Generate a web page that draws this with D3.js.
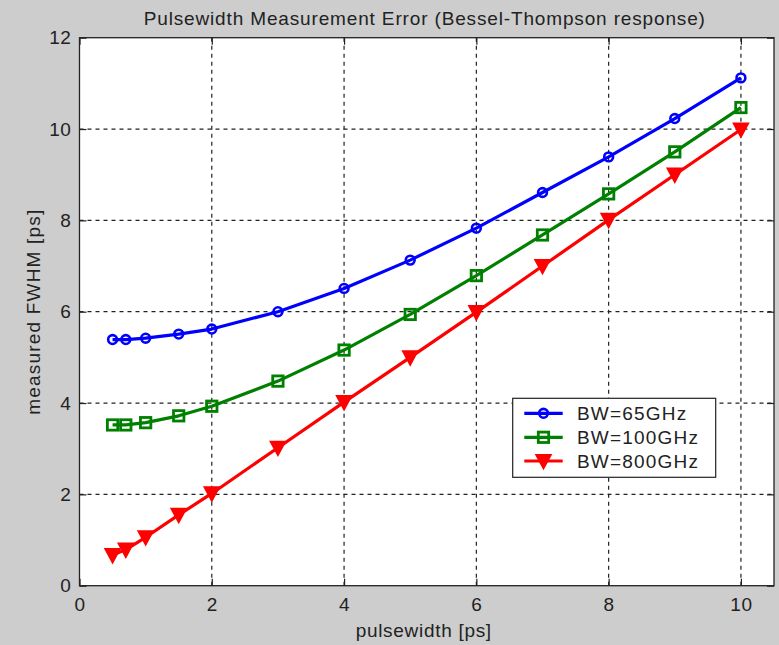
<!DOCTYPE html>
<html>
<head>
<meta charset="utf-8">
<script src="https://cdn.jsdelivr.net/npm/d3@7"></script>
<style>
  html, body { margin: 0; padding: 0; background: #cdcdcd; }
  svg { display: block; }
  text { font-family: "Liberation Sans", Arial, sans-serif; fill: #222; }
</style>
</head>
<body>
<svg id="chart" width="779" height="645"></svg>
<script>
// Pulse widths (ps) and measured FWHM (ps) for three receiver bandwidths
const pulsewidth = [0.5, 0.7, 1, 1.5, 2, 3, 4, 5, 6, 7, 8, 9, 10];
const fwhm65  = [5.39, 5.39, 5.42, 5.51, 5.62, 6.00, 6.51, 7.13, 7.83, 8.61, 9.39, 10.23, 11.12];
const fwhm100 = [3.52, 3.52, 3.57, 3.72, 3.93, 4.48, 5.16, 5.94, 6.79, 7.68, 8.58, 9.50, 10.47];
const fwhm800 = [0.67, 0.79, 1.06, 1.55, 2.02, 3.02, 4.02, 5.00, 5.99, 7.00, 8.01, 9.00, 9.99];
const seriesNames = ["BW=65GHz", "BW=100GHz", "BW=800GHz"];
const xTicks = [0, 2, 4, 6, 8, 10];
const yTicks = [0, 2, 4, 6, 8, 10, 12];

const titleText = "Pulsewidth Measurement Error (Bessel-Thompson response)";
const xLabel = "pulsewidth [ps]";
const yLabel = "measured FWHM [ps]";

const svg = d3.select("#chart");
const plotLeft = 79.5, plotRight = 774, plotTop = 37.7, plotBottom = 585.7;

const x = d3.scaleLinear().domain([0, 10.5]).range([plotLeft, plotRight]);
const y = d3.scaleLinear().domain([0, 12]).range([plotBottom, plotTop]);

// white axes area
svg.append("rect")
  .attr("x", plotLeft).attr("y", plotTop)
  .attr("width", plotRight - plotLeft).attr("height", plotBottom - plotTop)
  .attr("fill", "#ffffff");

// dashed grid
const grid = svg.append("g").attr("stroke", "#222").attr("stroke-width", 1.2)
  .attr("stroke-dasharray", "4,4");
grid.selectAll("line.v").data(xTicks.filter(d => d > 0)).enter().append("line")
  .attr("x1", d => x(d)).attr("x2", d => x(d))
  .attr("y1", plotTop).attr("y2", plotBottom);
grid.selectAll("line.h").data(yTicks.filter(d => d > 0 && d < 12)).enter().append("line")
  .attr("x1", plotLeft).attr("x2", plotRight)
  .attr("y1", d => y(d)).attr("y2", d => y(d));

// axes with inward ticks on all four sides
const tickLen = 7;
const axisFont = "19px";
const gx = svg.append("g").attr("transform", `translate(0,${plotBottom})`)
  .call(d3.axisBottom(x).tickValues(xTicks).tickSizeInner(-tickLen).tickSizeOuter(0).tickPadding(tickLen + 5));
const gy = svg.append("g").attr("transform", `translate(${plotLeft},0)`)
  .call(d3.axisLeft(y).tickValues(yTicks).tickSizeInner(-tickLen).tickSizeOuter(0).tickPadding(8));
const gxt = svg.append("g").attr("transform", `translate(0,${plotTop})`)
  .call(d3.axisTop(x).tickValues(xTicks).tickSizeInner(-tickLen).tickSizeOuter(0).tickFormat(""));
const gyr = svg.append("g").attr("transform", `translate(${plotRight},0)`)
  .call(d3.axisRight(y).tickValues(yTicks).tickSizeInner(-tickLen).tickSizeOuter(0).tickFormat(""));
[gx, gy, gxt, gyr].forEach(g => {
  g.select(".domain").remove();
  g.selectAll(".tick line").attr("stroke", "#222").attr("stroke-width", 1.2);
  g.selectAll(".tick text").style("font-size", axisFont)
    .style("font-family", '"Liberation Sans", Arial, sans-serif')
    .style("letter-spacing", "0.6px").attr("fill", "#222");
});

// frame
svg.append("rect")
  .attr("x", plotLeft).attr("y", plotTop)
  .attr("width", plotRight - plotLeft).attr("height", plotBottom - plotTop)
  .attr("fill", "none").attr("stroke", "#222").attr("stroke-width", 1.3);

// series
const series = [
  { name: seriesNames[0], values: fwhm65,  color: "#0000ff", marker: "circle" },
  { name: seriesNames[1], values: fwhm100, color: "#008000", marker: "square" },
  { name: seriesNames[2], values: fwhm800, color: "#ff0000", marker: "triangle" }
];

const line = d3.line().x(d => x(d[0])).y(d => y(d[1]));

function drawMarker(g, type, color, cx, cy) {
  if (type === "circle") {
    g.append("circle").attr("cx", cx).attr("cy", cy).attr("r", 4.4)
      .attr("fill", "none").attr("stroke", color).attr("stroke-width", 2.6);
  } else if (type === "square") {
    g.append("rect").attr("x", cx - 5.2).attr("y", cy - 5.2)
      .attr("width", 10.4).attr("height", 10.4)
      .attr("fill", "none").attr("stroke", color).attr("stroke-width", 2.8);
  } else {
    const w = 7, h = 6;
    g.append("path")
      .attr("d", `M${cx - w},${cy - h}L${cx + w},${cy - h}L${cx},${cy + h + 1}Z`)
      .attr("fill", color).attr("stroke", color).attr("stroke-width", 2.2)
      .attr("stroke-linejoin", "miter");
  }
}

series.forEach(s => {
  const pts = pulsewidth.map((p, i) => [p, s.values[i]]);
  const g = svg.append("g");
  g.append("path").datum(pts).attr("d", line)
    .attr("fill", "none").attr("stroke", s.color).attr("stroke-width", 3.2)
    .attr("stroke-linejoin", "round");
  pts.forEach(p => drawMarker(g, s.marker, s.color, x(p[0]), y(p[1])));
});

// legend
const lg = svg.append("g");
lg.append("rect").attr("x", 512.7).attr("y", 398.3).attr("width", 203).attr("height", 79)
  .attr("fill", "#ffffff").attr("stroke", "#222").attr("stroke-width", 1.2);
const legendRows = [413.3, 437.3, 461];
series.forEach((s, i) => {
  const ly = legendRows[i];
  lg.append("line").attr("x1", 524.3).attr("x2", 562.7).attr("y1", ly).attr("y2", ly)
    .attr("stroke", s.color).attr("stroke-width", 3.2);
  drawMarker(lg, s.marker, s.color, 543.5, ly);
  lg.append("text").attr("x", 577).attr("y", ly + 7)
    .style("font-size", "19px").style("letter-spacing", "1.2px").text(s.name);
});

// title and axis labels
svg.append("text").attr("x", (plotLeft + plotRight) / 2 - 2).attr("y", 25)
  .attr("text-anchor", "middle").style("font-size", "19px")
  .style("letter-spacing", "0.85px").text(titleText);
svg.append("text").attr("x", (plotLeft + plotRight) / 2 - 3).attr("y", 637)
  .attr("text-anchor", "middle").style("font-size", "19px")
  .style("letter-spacing", "0.7px").text(xLabel);
svg.append("text").attr("transform", `translate(40,${(plotTop + plotBottom) / 2}) rotate(-90)`)
  .attr("text-anchor", "middle").style("font-size", "19px")
  .style("letter-spacing", "1.2px").text(yLabel);
</script>
</body>
</html>
